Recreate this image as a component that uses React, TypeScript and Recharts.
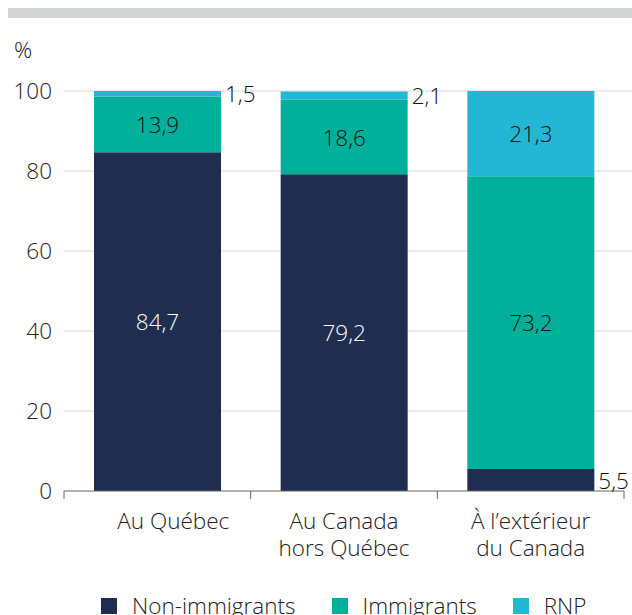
import { Bar, BarChart, CartesianGrid, LabelList, XAxis, YAxis } from "recharts";

const categories = ["Au Québec", "Au Canada\nhors Québec", "À l’extérieur\ndu Canada"];
const nonImmigrants = [84.7, 79.2, 5.5];
const immigrants = [13.9, 18.6, 73.2];
const rnp = [1.5, 2.1, 21.3];
const yTicks = [0, 20, 40, 60, 80, 100];

const seriesInfo = [
  { key: "nonImmigrants", name: "Non-immigrants", color: "#1e2d50", text: "#ffffff" },
  { key: "immigrants", name: "Immigrants", color: "#00b09b", text: "#111111" },
  { key: "rnp", name: "RNP", color: "#23b7d3", text: "#111111" }
];

const data = categories.map((cat, i) => ({
  cat,
  nonImmigrants: nonImmigrants[i],
  immigrants: immigrants[i],
  rnp: rnp[i]
}));

const FONT = "'Open Sans', sans-serif";
const FS = 22.5;
const W = 632;
const H = 615;
const LEFT = 64;
const RIGHT = 8;
const band = (W - LEFT - RIGHT) / categories.length;

const fmt = (v: number) => v.toFixed(1).replace(".", ",");

// Small segments get their label outside, to the right of the bar.
function makeLabel(textColor: string) {
  return (props: any) => {
    const { x, y, width, height, value } = props;
    const small = value < 10;
    return (
      <text
        x={small ? x + width + 4 : x + width / 2}
        y={y + height / 2}
        textAnchor={small ? "start" : "middle"}
        dominantBaseline="central"
        fill={small ? "#111111" : textColor}
        fontFamily={FONT}
        fontWeight={300}
        fontSize={FS}
      >
        {fmt(value)}
      </text>
    );
  };
}

function CategoryTick(props: any) {
  const { x, y, payload, index } = props;
  const lines = String(payload.value).split("\n");
  const shift = index === 0 ? 16 : 0;
  return (
    <g>
      <line x1={x - band / 2} x2={x - band / 2} y1={y} y2={y + 8} stroke="#666" />
      {index === categories.length - 1 && (
        <line x1={x + band / 2} x2={x + band / 2} y1={y} y2={y + 8} stroke="#666" />
      )}
      <text textAnchor="middle" fill="#222" fontFamily={FONT} fontWeight={300} fontSize={FS}>
        {lines.map((l, i) => (
          <tspan key={i} x={x + shift} y={y + 38 + i * 27}>
            {l}
          </tspan>
        ))}
      </text>
    </g>
  );
}

export default function App() {
  return (
    <div style={{ position: "absolute", top: 0, left: 0, width: W, height: H, overflow: "hidden", background: "#fff" }}>
      <div style={{ position: "absolute", top: 8, left: 8, width: 624, height: 10, background: "#d4d5d5" }} />
      <div style={{ position: "absolute", top: 34, left: 14, fontFamily: FONT, fontWeight: 300, fontSize: FS, color: "#222" }}>%</div>
      <BarChart
        width={W}
        height={H}
        data={data}
        margin={{ top: 91, right: RIGHT, left: 0, bottom: 64 }}
        barCategoryGap={30}
      >
        <CartesianGrid
          vertical={false}
          horizontal={(p: any) => (
            <line key={p.key ?? p.y1} x1={p.x1} x2={p.x2 + RIGHT} y1={p.y1} y2={p.y2} stroke="#e6e6e6" strokeWidth={1.5} />
          )}
          horizontalValues={[20, 40, 60, 80, 100]}
        />
        <XAxis
          dataKey="cat"
          interval={0}
          tickLine={false}
          tickSize={0}
          tickMargin={0}
          axisLine={{ stroke: "#666" }}
          height={60}
          tick={<CategoryTick />}
        />
        <YAxis
          domain={[0, 100]}
          ticks={yTicks}
          allowDataOverflow
          width={LEFT}
          axisLine={false}
          tickLine={false}
          tickMargin={6}
          tick={{ fill: "#222", fontFamily: FONT, fontWeight: 300, fontSize: FS }}
        />
        {seriesInfo.map((s) => (
          <Bar key={s.key} dataKey={s.key} name={s.name} stackId="a" fill={s.color} isAnimationActive={false}>
            <LabelList dataKey={s.key} content={makeLabel(s.text)} />
          </Bar>
        ))}
      </BarChart>
      <div
        style={{
          position: "absolute",
          top: 590,
          left: 101,
          display: "flex",
          alignItems: "center",
          whiteSpace: "nowrap",
          fontFamily: FONT,
          fontWeight: 300,
          fontSize: FS,
          color: "#222"
        }}
      >
        {seriesInfo.map((s, i) => (
          <div key={s.key} style={{ display: "flex", alignItems: "center", marginRight: i < seriesInfo.length - 1 ? 36 : 0 }}>
            <span style={{ width: 16, height: 16, background: s.color, display: "inline-block", marginRight: 15 }} />
            <span>{s.name}</span>
          </div>
        ))}
      </div>
    </div>
  );
}
